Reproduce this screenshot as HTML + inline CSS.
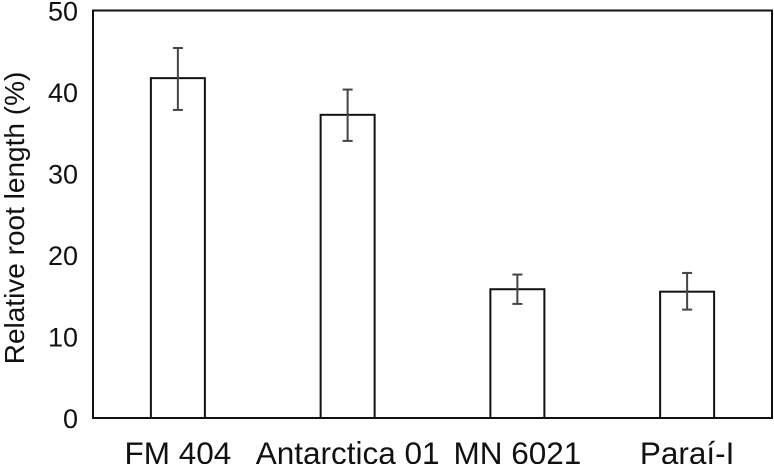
<!DOCTYPE html>
<html><head><meta charset="utf-8"><style>
html,body{margin:0;padding:0;background:#fff;}
svg{display:block;font-family:"Liberation Sans",Arial,sans-serif;}
</style></head><body>
<svg id="chart" width="774" height="464" viewBox="0 0 774 464"></svg>
<script>
const categories = ["FM 404","Antarctica 01","MN 6021","Paraí-I"];
const values = [41.7, 37.2, 15.8, 15.5];
const errHigh = [45.4, 40.3, 17.6, 17.8];
const errLow = [37.8, 34.0, 14.0, 13.3];
const yTicks = [0,10,20,30,40,50];

const svg = document.getElementById('chart');
const NS = 'http://www.w3.org/2000/svg';
const L = 93, R = 772, T = 10.5, B = 418;
const yMax = 50;
const y = v => B - (v / yMax) * (B - T);
const band = (R - L) / categories.length;
const xc = i => L + band * (i + 0.5);
const barW = 54;

function mk(tag, attrs) {
  const e = document.createElementNS(NS, tag);
  for (const k in attrs) e.setAttribute(k, attrs[k]);
  svg.appendChild(e);
  return e;
}

const frame = mk('rect', {x:L, y:T, width:R-L, height:B-T, fill:'none', stroke:'#111', 'stroke-width':2});



yTicks.forEach(t => {
  const tx = mk('text', {x:78, y:y(t)+10, 'text-anchor':'end', 'font-size':27, fill:'#111'});
  tx.textContent = t;
  
  
});

categories.forEach((c, i) => {
  const bar = mk('rect', {x:xc(i)-barW/2, y:y(values[i]), width:barW, height:B-y(values[i]), fill:'#fff', stroke:'#111', 'stroke-width':2});
  
  
  const g = document.createElementNS(NS, 'g');
  g.setAttribute('stroke', '#444');
  g.setAttribute('stroke-width', '2');
  svg.appendChild(g);
  
  
  const x = xc(i);
  [[x, y(errHigh[i]), x, y(errLow[i])], [x-5, y(errHigh[i]), x+5, y(errHigh[i])], [x-5, y(errLow[i]), x+5, y(errLow[i])]].forEach(p => {
    const l = document.createElementNS(NS, 'line');
    l.setAttribute('x1', p[0]); l.setAttribute('y1', p[1]); l.setAttribute('x2', p[2]); l.setAttribute('y2', p[3]);
    g.appendChild(l);
  });
  const lab = mk('text', {x:x, y:464, 'text-anchor':'middle', 'font-size':31.5, fill:'#111'});
  lab.textContent = c;
  
  
});

const yt = mk('text', {x:0, y:0, transform:'translate(24,218) rotate(-90)', 'text-anchor':'middle', 'font-size':28, fill:'#111'});
yt.textContent = 'Relative root length (%)';


</script>
</body></html>
